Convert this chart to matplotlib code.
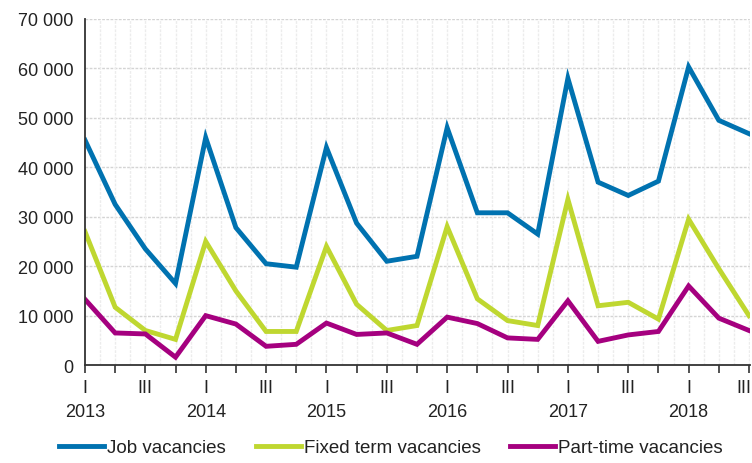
import matplotlib.pyplot as plt
import numpy as np

plt.rcParams['font.family'] = ['Liberation Sans', 'DejaVu Sans']

# quarters 2013 Q1 .. 2018 Q3
years = [2013, 2014, 2015, 2016, 2017, 2018]
job = [45500, 32500, 23500, 16500,
       46000, 27800, 20500, 19800,
       44000, 28700, 21000, 22000,
       48000, 30800, 30800, 26500,
       58000, 37000, 34300, 37200,
       60300, 49500, 46800]
fixed = [27000, 11700, 7000, 5200,
         25000, 15000, 6800, 6800,
         24000, 12300, 7000, 8000,
         28000, 13400, 9000, 8000,
         33500, 12000, 12700, 9300,
         29500, 19500, 10000]
part = [13300, 6500, 6300, 1600,
        10000, 8300, 3800, 4200,
        8500, 6200, 6500, 4200,
        9700, 8400, 5500, 5200,
        13000, 4800, 6100, 6800,
        16000, 9500, 7000]

n = len(job)
x = np.arange(n)

fig = plt.figure(figsize=(7.52, 4.64), dpi=100)
ax = fig.add_axes([0.113, 0.211, 0.885, 0.746])

# grid
for v in range(10000, 70001, 10000):
    ax.axhline(v, color='#d4d4d4', lw=1, ls=(0, (2, 1)), zorder=0)
for xv in np.arange(0.5, n, 0.5):
    ax.axvline(xv, color='#ececec', lw=1, ls=(0, (2, 1)), zorder=0)

ax.plot(x, job, color='#0072b0', lw=3.5, label='Job vacancies', solid_joinstyle='miter')
ax.plot(x, fixed, color='#bfd730', lw=3.5, label='Fixed term vacancies', solid_joinstyle='miter')
ax.plot(x, part, color='#a5007f', lw=3.5, label='Part-time vacancies', solid_joinstyle='miter')

ax.set_xlim(0, n - 1 + 0.05)
ax.set_ylim(0, 70000)
ax.set_yticks(range(0, 70001, 10000))
ax.set_yticklabels(['0'] + ['%d 000' % (v // 1000) for v in range(10000, 70001, 10000)])

labels = []
for i in range(n):
    q = i % 4
    if q == 0:
        labels.append('I\n' + str(years[i // 4]))
    elif q == 2:
        labels.append('III')
    else:
        labels.append('')
# the last "III" is drawn by hand, nudged left so it stays inside the figure
last_label = labels[-1]
labels[-1] = ''
ax.set_xticks(x)
ax.set_xticklabels(labels, linespacing=1.55)
ax.annotate(last_label, xy=(n - 1, 0), xycoords=('data', 'axes fraction'),
            xytext=(-4, -10), textcoords='offset points', ha='center', va='top',
            fontsize=13, color='#222222', annotation_clip=False)

ax.tick_params(axis='x', length=6, width=1.2, color='#333333', labelsize=13, pad=4)
ax.tick_params(axis='y', length=0, labelsize=13, pad=8, labelcolor='#222222')
ax.tick_params(axis='x', labelcolor='#222222')

for s in ['top', 'right']:
    ax.spines[s].set_visible(False)
ax.spines['left'].set_color('#333333')
ax.spines['bottom'].set_color('#333333')
ax.spines['left'].set_linewidth(1.3)
ax.spines['bottom'].set_linewidth(1.3)

fig.legend(loc='center', bbox_to_anchor=(0.52, 0.033), ncol=3, frameon=False,
           fontsize=13.5, handlelength=2.4, handletextpad=0.15, columnspacing=1.6,
           labelcolor='#222222')

fig.savefig('out.png', dpi=100)
